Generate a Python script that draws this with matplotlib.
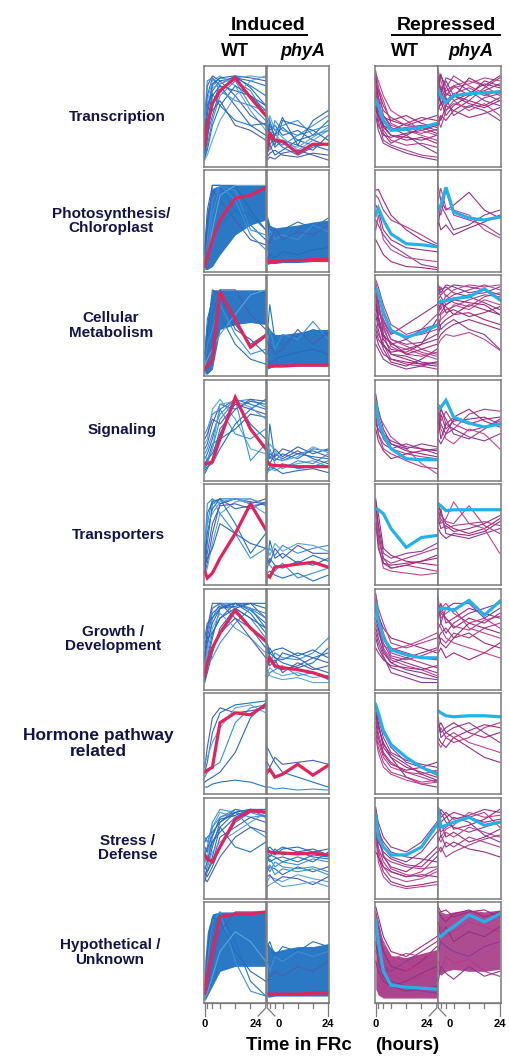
import matplotlib
matplotlib.use("Agg")
import matplotlib.pyplot as plt

plt.rcParams['font.family'] = ['Liberation Sans', 'DejaVu Sans']

W, H = 509, 1056

# sampling times (hours in FRc)
times = [0, 1, 3, 6, 12, 18, 24]
minor_ticks = [1, 3, 6, 12, 18]

categories = ["Transcription", "Photosynthesis/\nChloroplast", "Cellular\nMetabolism",
              "Signaling", "Transporters", "Growth /\nDevelopment",
              "Hormone pathway\nrelated", "Stress /\nDefense", "Hypothetical /\nUnknown"]
label_x = [117, 111, 111, 122, 118, 113, 98, 128, 110]
label_size = [11, 11, 11, 11, 11, 11, 12.5, 11, 11]

# ---- Transcription ----
transcription_ind_wt = [
    [15, 40, 75, 85, 88, 80, 70], [30, 55, 80, 88, 85, 60, 45], [10, 35, 60, 82, 90, 88, 85],
    [25, 70, 88, 80, 75, 70, 60], [40, 65, 85, 90, 80, 55, 35], [20, 30, 50, 75, 88, 85, 80],
    [5, 20, 45, 70, 85, 75, 50], [35, 80, 90, 85, 70, 50, 40], [12, 25, 70, 80, 60, 40, 30],
    [45, 60, 78, 82, 88, 90, 88], [8, 15, 40, 60, 80, 70, 55], [50, 85, 88, 75, 65, 60, 55],
    [18, 45, 55, 65, 40, 35, 25], [28, 50, 82, 88, 90, 78, 60], [6, 10, 25, 45, 70, 85, 90],
    [22, 60, 72, 60, 45, 40, 42]]
transcription_ind_wt_avg = [20, 40, 62, 75, 88, 68, 50]
transcription_ind_phya = [
    [35, 40, 30, 38, 25, 30, 45], [20, 15, 25, 20, 30, 35, 40], [10, 30, 18, 25, 20, 15, 30],
    [45, 35, 40, 30, 35, 25, 20], [25, 50, 35, 28, 15, 25, 35], [15, 20, 10, 15, 25, 20, 15],
    [30, 25, 45, 35, 30, 40, 50], [8, 12, 15, 10, 8, 12, 10], [40, 30, 20, 45, 40, 35, 25],
    [22, 28, 32, 22, 18, 28, 38], [12, 45, 25, 18, 10, 18, 22], [50, 42, 35, 40, 45, 30, 35],
    [5, 8, 6, 12, 15, 10, 5], [28, 20, 30, 48, 20, 45, 55]]
transcription_ind_phya_avg = [15, 32, 25, 24, 12, 21, 21]
transcription_rep_wt = [
    [90, 70, 40, 30, 28, 25, 30], [80, 55, 35, 25, 20, 22, 18], [70, 60, 45, 35, 38, 40, 35],
    [95, 80, 50, 40, 35, 30, 25], [60, 40, 30, 28, 32, 35, 40], [85, 75, 60, 45, 40, 45, 50],
    [75, 45, 25, 20, 15, 10, 8], [65, 58, 50, 38, 30, 20, 12], [92, 85, 70, 55, 45, 35, 30],
    [55, 50, 40, 35, 42, 48, 45], [88, 62, 38, 30, 25, 28, 22], [72, 68, 55, 48, 40, 38, 42],
    [50, 35, 22, 18, 12, 8, 5], [82, 78, 65, 42, 35, 32, 36], [68, 50, 32, 22, 30, 38, 32],
    [58, 55, 48, 45, 50, 42, 38]]
transcription_rep_wt_avg = [66, 60, 45, 35, 36, 38, 42]
transcription_rep_phya = [
    [85, 60, 75, 80, 70, 85, 80], [70, 80, 65, 72, 78, 70, 75], [90, 75, 85, 70, 65, 78, 88],
    [60, 55, 70, 80, 85, 80, 70], [75, 90, 80, 65, 72, 82, 78], [50, 45, 60, 55, 65, 60, 68],
    [80, 70, 55, 62, 58, 68, 72], [65, 72, 88, 85, 75, 65, 60], [95, 85, 70, 78, 82, 88, 85],
    [55, 65, 50, 60, 70, 75, 82], [40, 50, 45, 55, 48, 52, 58], [88, 68, 78, 90, 80, 72, 65],
    [72, 62, 68, 50, 60, 55, 45], [45, 38, 55, 65, 55, 62, 50], [82, 92, 72, 68, 88, 80, 90],
    [62, 75, 60, 70, 62, 58, 65]]
transcription_rep_phya_avg = [76, 70, 63, 70, 72, 73, 74]

# ---- Photosynthesis ----
photo_ind_wt_band = ([0, 0, 3, 15, 35, 45, 50], [35, 60, 82, 85, 85, 85, 85])
photo_ind_wt = [
    [10, 40, 85, 85, 60, 45, 30], [5, 30, 70, 85, 80, 40, 35], [15, 50, 80, 70, 50, 30, 25],
    [20, 60, 85, 85, 85, 60, 40], [0, 10, 40, 75, 85, 85, 85], [8, 20, 30, 45, 60, 55, 40],
    [3, 15, 55, 85, 70, 35, 20]]
photo_ind_wt_avg = [3, 12, 30, 50, 72, 75, 83]
photo_ind_phya_band = ([5, 6, 6, 7, 7, 8, 8], [55, 45, 42, 43, 45, 48, 50])
photo_ind_phya = [
    [50, 30, 35, 40, 48, 42, 52], [20, 40, 30, 35, 30, 45, 38], [30, 25, 42, 30, 38, 35, 45],
    [10, 15, 12, 18, 15, 20, 22]]
photo_ind_phya_avg = [8, 8, 8, 9, 9, 10, 10]
photo_rep_wt = [
    [80, 81, 70, 55, 40, 30, 24], [75, 72, 60, 50, 43, 35, 26], [50, 45, 35, 25, 15, 5, 2],
    [40, 55, 30, 20, 12, 10, 8], [65, 60, 40, 30, 22, 20, 18], [30, 25, 15, 8, 3, 2, 0]]
photo_rep_wt_avg = [55, 62, 50, 36, 26, 25, 23]
photo_rep_phya = [
    [83, 70, 60, 65, 78, 60, 52], [60, 55, 80, 55, 50, 45, 35], [45, 65, 55, 40, 45, 55, 60],
    [70, 82, 62, 60, 55, 40, 32], [50, 40, 45, 35, 42, 48, 55]]
photo_rep_phya_avg = [60, 65, 83, 58, 52, 50, 53]

# ---- Cellular metabolism ----
cell_ind_wt_band = ([0, 0, 5, 45, 50, 52, 50], [35, 55, 85, 85, 85, 85, 85])
cell_ind_wt = [
    [5, 20, 60, 85, 50, 30, 40], [10, 30, 45, 70, 40, 20, 25], [2, 10, 30, 85, 85, 60, 45],
    [20, 40, 85, 80, 45, 35, 20], [8, 15, 25, 40, 60, 80, 85], [15, 55, 75, 60, 30, 15, 10]]
cell_ind_wt_avg = [5, 8, 14, 83, 55, 27, 39]
cell_ind_phya_band = ([5, 6, 8, 8, 8, 8, 8], [50, 45, 40, 40, 42, 45, 45])
cell_ind_phya = [
    [40, 70, 35, 30, 38, 45, 40], [30, 45, 25, 40, 35, 53, 35], [20, 30, 20, 25, 45, 30, 42],
    [15, 10, 15, 18, 22, 25, 20]]
cell_ind_phya_avg = [8, 8, 8, 8, 9, 9, 9]
cell_rep_wt = [
    [90, 75, 40, 20, 15, 10, 12], [80, 60, 30, 15, 10, 8, 5], [70, 65, 50, 35, 30, 32, 40],
    [85, 80, 65, 45, 35, 25, 20], [60, 45, 25, 12, 8, 15, 25], [75, 55, 35, 25, 22, 30, 55],
    [95, 88, 70, 50, 40, 45, 60], [50, 40, 30, 20, 18, 12, 10], [88, 70, 45, 30, 25, 20, 15],
    [65, 62, 55, 40, 50, 60, 70], [40, 30, 20, 15, 12, 10, 8], [78, 72, 48, 28, 20, 18, 22],
    [55, 58, 40, 30, 35, 45, 50], [92, 82, 55, 35, 28, 22, 18], [45, 35, 28, 22, 25, 30, 35],
    [70, 50, 38, 32, 20, 25, 30], [82, 68, 52, 42, 38, 40, 45], [30, 25, 15, 10, 5, 8, 12]]
cell_rep_wt_avg = [87, 82, 62, 44, 37, 42, 49]
cell_rep_phya = [
    [75, 80, 85, 90, 88, 85, 80], [60, 70, 75, 80, 85, 90, 85], [85, 78, 70, 75, 80, 82, 88],
    [50, 55, 60, 70, 65, 75, 70], [90, 85, 88, 82, 78, 72, 65], [40, 50, 55, 60, 70, 65, 60],
    [70, 65, 80, 72, 68, 78, 82], [55, 45, 50, 55, 45, 40, 25], [80, 88, 78, 85, 90, 88, 90],
    [35, 40, 45, 50, 55, 50, 45], [65, 72, 68, 60, 62, 55, 50], [45, 60, 65, 68, 75, 80, 78],
    [88, 82, 90, 88, 82, 85, 75], [30, 35, 40, 38, 42, 35, 24], [72, 75, 62, 65, 58, 62, 68],
    [58, 62, 70, 75, 72, 70, 60]]
cell_rep_phya_avg = [72, 73, 74, 76, 78, 86, 75]

# ---- Signaling ----
signal_ind_wt = [
    [20, 25, 40, 70, 80, 75, 70], [10, 15, 30, 60, 78, 80, 72], [30, 35, 55, 75, 70, 80, 78],
    [15, 20, 25, 45, 78, 55, 40], [35, 40, 70, 80, 60, 30, 25], [5, 10, 20, 50, 70, 78, 75],
    [25, 30, 45, 65, 80, 18, 35], [40, 45, 60, 55, 75, 70, 65], [12, 18, 35, 40, 50, 65, 62],
    [22, 20, 30, 75, 78, 72, 60], [8, 12, 15, 30, 55, 70, 80], [45, 50, 65, 70, 45, 40, 50]]
signal_ind_wt_avg = [15, 15, 17, 40, 82, 50, 30]
signal_ind_phya = [
    [15, 55, 20, 18, 25, 22, 20], [10, 8, 12, 15, 10, 12, 18], [20, 25, 22, 30, 25, 28, 22],
    [25, 20, 30, 22, 32, 25, 30], [5, 10, 8, 12, 15, 18, 12], [30, 22, 18, 25, 20, 30, 28],
    [12, 30, 15, 10, 18, 15, 25], [18, 15, 25, 20, 28, 20, 15], [8, 12, 10, 5, 8, 10, 6],
    [22, 35, 28, 18, 22, 32, 26]]
signal_ind_phya_avg = [17, 14, 13, 13, 12, 12, 12]
signal_rep_wt = [
    [85, 70, 50, 35, 28, 25, 22], [70, 55, 40, 30, 25, 22, 20], [60, 45, 35, 30, 35, 30, 25],
    [80, 65, 55, 42, 30, 15, 5], [50, 38, 28, 20, 25, 28, 30], [75, 60, 45, 38, 32, 30, 28],
    [65, 45, 30, 25, 18, 12, 10], [55, 50, 42, 35, 30, 35, 32]]
signal_rep_wt_avg = [76, 60, 44, 30, 20, 19, 19]
signal_rep_phya = [
    [65, 55, 45, 60, 55, 60, 62], [75, 72, 55, 50, 65, 70, 68], [55, 70, 60, 45, 40, 50, 60],
    [70, 50, 40, 35, 50, 45, 30], [45, 65, 50, 58, 60, 62, 55], [60, 40, 55, 62, 70, 58, 52],
    [72, 58, 68, 55, 48, 52, 58], [40, 35, 45, 50, 42, 38, 45]]
signal_rep_phya_avg = [70, 72, 79, 62, 56, 52, 55]

# ---- Transporters ----
transp_ind_wt = [
    [15, 40, 80, 85, 85, 82, 80], [25, 60, 85, 80, 85, 85, 78], [10, 20, 50, 80, 85, 80, 85],
    [30, 70, 82, 85, 75, 78, 80], [8, 15, 40, 70, 82, 85, 80], [20, 50, 75, 85, 60, 30, 50],
    [35, 80, 85, 70, 50, 25, 35], [12, 30, 60, 78, 80, 75, 82], [18, 25, 35, 60, 50, 40, 35],
    [40, 60, 70, 82, 85, 80, 70]]
transp_ind_wt_avg = [12, 5, 10, 25, 50, 80, 54]
transp_ind_phya = [
    [20, 43, 25, 30, 20, 28, 22], [30, 35, 28, 38, 30, 35, 38], [25, 20, 35, 25, 38, 30, 30],
    [15, 25, 18, 15, 22, 18, 25], [35, 28, 40, 32, 40, 38, 32], [10, 12, 8, 5, 10, 2, 8],
    [22, 18, 12, 20, 5, 10, 15]]
transp_ind_phya_avg = [8, 6, 16, 17, 19, 21, 16]
transp_rep_wt = [
    [85, 55, 20, 15, 18, 22, 28], [80, 45, 25, 20, 25, 30, 35], [75, 60, 30, 25, 30, 32, 40],
    [70, 40, 15, 12, 10, 8, 10], [60, 35, 20, 18, 20, 22, 25], [82, 70, 35, 28, 22, 20, 18],
    [55, 48, 25, 15, 18, 15, 12]]
transp_rep_wt_avg = [75, 74, 70, 55, 36, 46, 48]
transp_rep_phya = [
    [80, 70, 60, 55, 50, 55, 65], [70, 65, 55, 58, 60, 62, 58], [60, 75, 50, 48, 45, 50, 55],
    [75, 60, 65, 82, 60, 55, 30], [65, 55, 58, 52, 55, 60, 68], [55, 50, 45, 50, 48, 52, 62],
    [72, 68, 62, 60, 78, 58, 50]]
transp_rep_phya_avg = [80, 78, 73, 74, 74, 74, 74]

# ---- Growth / Development ----
growth_ind_wt = [
    [10, 25, 50, 80, 85, 80, 60], [20, 40, 70, 85, 80, 70, 50], [30, 50, 75, 82, 85, 85, 70],
    [5, 15, 35, 60, 80, 85, 80], [40, 60, 80, 85, 75, 60, 45], [15, 30, 55, 70, 85, 75, 55],
    [25, 55, 80, 85, 85, 80, 75], [8, 20, 40, 55, 70, 60, 40], [35, 45, 65, 80, 82, 85, 85],
    [12, 35, 60, 75, 60, 50, 35], [50, 65, 70, 80, 85, 78, 65], [18, 22, 30, 45, 65, 80, 70],
    [28, 60, 85, 85, 70, 50, 30], [45, 50, 55, 70, 80, 70, 60]]
growth_ind_wt_avg = [12, 25, 40, 55, 78, 60, 47]
growth_ind_phya = [
    [25, 35, 30, 25, 20, 25, 40], [30, 25, 35, 30, 28, 35, 50], [20, 28, 20, 18, 22, 30, 25],
    [40, 30, 25, 35, 30, 20, 15], [15, 20, 15, 12, 15, 10, 12], [35, 40, 30, 28, 35, 30, 35],
    [10, 15, 18, 22, 12, 15, 8], [28, 22, 28, 15, 25, 18, 22], [45, 35, 38, 40, 32, 38, 30],
    [18, 12, 10, 8, 10, 5, 5]]
growth_ind_phya_avg = [25, 30, 22, 20, 18, 15, 10]
growth_rep_wt = [
    [85, 70, 50, 40, 35, 30, 28], [90, 75, 55, 35, 30, 25, 20], [70, 60, 45, 30, 25, 20, 15],
    [80, 65, 40, 28, 22, 18, 12], [60, 50, 35, 25, 30, 35, 40], [75, 72, 60, 50, 45, 40, 35],
    [95, 80, 65, 45, 40, 45, 50], [50, 40, 30, 20, 15, 10, 8], [65, 55, 42, 38, 42, 48, 55],
    [88, 60, 38, 25, 18, 15, 10], [40, 35, 28, 22, 20, 18, 22], [78, 68, 52, 32, 28, 32, 38],
    [55, 45, 32, 15, 10, 5, 5]]
growth_rep_wt_avg = [85, 68, 50, 38, 33, 30, 30]
growth_rep_phya = [
    [80, 75, 70, 60, 70, 65, 75], [70, 80, 85, 75, 65, 70, 60], [60, 65, 55, 65, 75, 80, 85],
    [90, 70, 75, 80, 60, 55, 50], [50, 55, 60, 50, 55, 45, 40], [75, 85, 65, 70, 80, 75, 70],
    [40, 50, 45, 55, 50, 60, 65], [85, 65, 80, 85, 85, 70, 80], [65, 60, 50, 45, 40, 35, 30],
    [55, 45, 40, 50, 65, 60, 55], [35, 40, 30, 35, 28, 35, 45], [72, 78, 70, 62, 58, 68, 72]]
growth_rep_phya_avg = [78, 80, 80, 78, 88, 73, 87]

# ---- Hormone pathway related ----
hormone_ind_wt = [
    [20, 30, 60, 80, 88, 90, 92], [15, 20, 25, 30, 70, 85, 88], [25, 45, 75, 85, 80, 82, 85],
    [10, 12, 15, 20, 40, 75, 90], [30, 35, 50, 65, 85, 88, 80], [5, 5, 8, 10, 12, 10, 5]]
hormone_ind_wt_avg = [20, 22, 25, 70, 80, 78, 88]
hormone_ind_phya = [[45, 40, 30, 20, 15, 10, 5], [5, 5, 3, 4, 2, 3, 2], [30, 25, 35, 28, 30, 32, 28]]
hormone_ind_phya_avg = [20, 23, 15, 18, 28, 17, 27]
hormone_rep_wt = [
    [85, 70, 45, 35, 25, 20, 15], [75, 60, 40, 30, 20, 15, 10], [90, 80, 60, 45, 30, 25, 20],
    [65, 50, 35, 25, 20, 18, 22], [80, 65, 50, 35, 15, 8, 5], [70, 55, 38, 28, 22, 25, 30],
    [60, 45, 30, 20, 15, 10, 12], [88, 75, 55, 40, 32, 28, 25], [55, 40, 25, 18, 12, 8, 10],
    [78, 68, 48, 38, 28, 18, 12]]
hormone_rep_wt_avg = [88, 80, 62, 48, 35, 25, 18]
hormone_rep_phya = [
    [70, 60, 65, 70, 60, 55, 60], [60, 65, 55, 50, 55, 65, 70], [75, 55, 60, 65, 70, 60, 50],
    [50, 45, 55, 60, 50, 45, 40], [65, 70, 60, 55, 45, 35, 30], [55, 50, 45, 55, 62, 68, 65]]
hormone_rep_phya_avg = [82, 80, 77, 76, 77, 77, 76]

# ---- Stress / Defense ----
stress_ind_wt = [
    [30, 25, 40, 70, 85, 88, 85], [40, 35, 60, 80, 85, 80, 82], [20, 30, 50, 75, 88, 85, 88],
    [50, 45, 55, 65, 80, 88, 80], [35, 40, 70, 85, 80, 85, 85], [25, 20, 30, 50, 75, 85, 88],
    [45, 50, 75, 88, 85, 70, 60], [15, 25, 35, 60, 70, 80, 75], [55, 60, 65, 75, 85, 88, 85],
    [38, 30, 45, 55, 65, 75, 85], [28, 35, 55, 70, 50, 45, 55], [60, 55, 70, 80, 88, 85, 80],
    [18, 15, 25, 40, 60, 70, 65], [42, 48, 62, 78, 82, 88, 88]]
stress_ind_wt_avg = [42, 38, 35, 50, 78, 87, 85]
stress_ind_phya = [
    [45, 40, 48, 42, 45, 40, 38], [35, 38, 30, 35, 32, 38, 35], [25, 30, 28, 22, 30, 25, 30],
    [50, 45, 42, 48, 50, 45, 48], [15, 20, 18, 15, 22, 18, 15], [40, 35, 38, 40, 35, 42, 40],
    [30, 25, 35, 30, 28, 30, 25], [20, 22, 15, 20, 18, 12, 20], [48, 50, 45, 50, 45, 48, 42],
    [10, 12, 15, 10, 12, 15, 10], [38, 42, 40, 35, 40, 35, 45], [28, 32, 22, 28, 25, 28, 22]]
stress_ind_phya_avg = [46, 45, 44, 44, 43, 44, 42]
stress_rep_wt = [
    [85, 60, 40, 30, 25, 35, 50], [75, 50, 35, 25, 20, 25, 40], [90, 70, 50, 40, 35, 45, 65],
    [65, 45, 30, 20, 15, 18, 25], [80, 65, 55, 45, 40, 38, 35], [70, 40, 25, 15, 10, 12, 15],
    [55, 45, 40, 35, 30, 28, 30], [88, 75, 60, 50, 45, 55, 75], [60, 35, 20, 12, 8, 10, 12],
    [78, 55, 45, 38, 32, 30, 45], [45, 40, 30, 25, 20, 22, 20], [82, 68, 42, 28, 22, 20, 28]]
stress_rep_wt_avg = [82, 60, 50, 42, 42, 50, 72]
stress_rep_phya = [
    [88, 75, 80, 85, 80, 75, 78], [75, 65, 70, 75, 80, 85, 70], [80, 85, 75, 70, 65, 70, 75],
    [60, 55, 65, 60, 70, 65, 60], [70, 75, 60, 65, 55, 60, 68], [90, 80, 85, 78, 82, 88, 85],
    [50, 45, 55, 50, 60, 55, 50], [65, 70, 72, 80, 75, 62, 55], [85, 60, 68, 72, 85, 80, 82],
    [55, 62, 50, 55, 48, 45, 40], [78, 88, 82, 68, 72, 78, 88], [45, 50, 40, 45, 52, 58, 62]]
stress_rep_phya_avg = [88, 70, 72, 75, 80, 72, 75]

# ---- Hypothetical / Unknown ----
hypo_ind_wt_band = ([0, 5, 15, 30, 35, 35, 35], [40, 70, 88, 90, 90, 90, 90])
hypo_ind_wt = [
    [5, 20, 60, 90, 60, 20, 5], [10, 40, 80, 90, 40, 10, 5], [2, 10, 40, 70, 90, 90, 90],
    [15, 50, 85, 80, 50, 30, 20], [3, 8, 25, 50, 70, 60, 40]]
hypo_ind_wt_avg = [8, 25, 50, 85, 88, 88, 90]
hypo_ind_phya_band = ([4, 4, 5, 5, 5, 5, 5], [60, 55, 50, 52, 55, 55, 58])
hypo_ind_phya = [[55, 60, 45, 55, 50, 60, 55], [40, 30, 45, 40, 50, 45, 50], [20, 25, 30, 25, 35, 30, 40]]
hypo_ind_phya_avg = [7, 7, 7, 7, 7, 8, 8]
hypo_rep_wt_band = ([12, 6, 3, 3, 3, 3, 3], [88, 78, 58, 46, 44, 48, 52])
hypo_rep_wt = [
    [90, 75, 50, 35, 30, 40, 55], [85, 60, 40, 25, 20, 25, 30], [70, 55, 35, 30, 40, 50, 60],
    [80, 70, 60, 45, 35, 30, 25], [60, 40, 25, 15, 10, 12, 15], [95, 85, 65, 50, 45, 55, 65],
    [50, 45, 35, 25, 30, 35, 40], [75, 50, 30, 20, 15, 10, 8], [88, 80, 55, 42, 48, 45, 50],
    [40, 30, 20, 15, 20, 28, 35]]
hypo_rep_wt_avg = [82, 60, 30, 16, 14, 13, 12]
hypo_rep_phya_band = ([28, 26, 30, 32, 30, 30, 32], [92, 90, 88, 90, 92, 90, 92])
hypo_rep_phya = [
    [90, 85, 80, 88, 92, 85, 90], [70, 75, 65, 70, 80, 75, 70], [50, 60, 55, 50, 45, 55, 60],
    [30, 40, 35, 45, 30, 40, 45], [80, 65, 75, 60, 70, 65, 75], [95, 90, 92, 85, 90, 92, 85],
    [40, 30, 45, 38, 42, 30, 25], [20, 35, 28, 22, 35, 25, 30]]
hypo_rep_phya_avg = [67, 65, 70, 75, 87, 80, 88]

# rows: (lines, average, band) for induced WT, induced phyA, repressed WT, repressed phyA
rows = [
    [(transcription_ind_wt, transcription_ind_wt_avg, None),
     (transcription_ind_phya, transcription_ind_phya_avg, None),
     (transcription_rep_wt, transcription_rep_wt_avg, None),
     (transcription_rep_phya, transcription_rep_phya_avg, None)],
    [(photo_ind_wt, photo_ind_wt_avg, photo_ind_wt_band),
     (photo_ind_phya, photo_ind_phya_avg, photo_ind_phya_band),
     (photo_rep_wt, photo_rep_wt_avg, None),
     (photo_rep_phya, photo_rep_phya_avg, None)],
    [(cell_ind_wt, cell_ind_wt_avg, cell_ind_wt_band),
     (cell_ind_phya, cell_ind_phya_avg, cell_ind_phya_band),
     (cell_rep_wt, cell_rep_wt_avg, None),
     (cell_rep_phya, cell_rep_phya_avg, None)],
    [(signal_ind_wt, signal_ind_wt_avg, None),
     (signal_ind_phya, signal_ind_phya_avg, None),
     (signal_rep_wt, signal_rep_wt_avg, None),
     (signal_rep_phya, signal_rep_phya_avg, None)],
    [(transp_ind_wt, transp_ind_wt_avg, None),
     (transp_ind_phya, transp_ind_phya_avg, None),
     (transp_rep_wt, transp_rep_wt_avg, None),
     (transp_rep_phya, transp_rep_phya_avg, None)],
    [(growth_ind_wt, growth_ind_wt_avg, None),
     (growth_ind_phya, growth_ind_phya_avg, None),
     (growth_rep_wt, growth_rep_wt_avg, None),
     (growth_rep_phya, growth_rep_phya_avg, None)],
    [(hormone_ind_wt, hormone_ind_wt_avg, None),
     (hormone_ind_phya, hormone_ind_phya_avg, None),
     (hormone_rep_wt, hormone_rep_wt_avg, None),
     (hormone_rep_phya, hormone_rep_phya_avg, None)],
    [(stress_ind_wt, stress_ind_wt_avg, None),
     (stress_ind_phya, stress_ind_phya_avg, None),
     (stress_rep_wt, stress_rep_wt_avg, None),
     (stress_rep_phya, stress_rep_phya_avg, None)],
    [(hypo_ind_wt, hypo_ind_wt_avg, hypo_ind_wt_band),
     (hypo_ind_phya, hypo_ind_phya_avg, hypo_ind_phya_band),
     (hypo_rep_wt, hypo_rep_wt_avg, hypo_rep_wt_band),
     (hypo_rep_phya, hypo_rep_phya_avg, hypo_rep_phya_band)],
]

blue_shades = ["#1f74c4", "#3a8fd6", "#4a5db0", "#2a68b8", "#5aa4de"]
mag_shades = ["#a3287c", "#b23c8c", "#8a3a9a", "#c0448e", "#96307e"]
band_colors = ["#1f72c2", "#1f72c2", "#a02c7e", "#a02c7e"]
band_alpha = [0.95, 0.95, 0.88, 0.85]
avg_colors = ["#e2245c", "#e2245c", "#22b2ea", "#22b2ea"]
frame_color = "#7a7a7a"
label_color = "#13134a"

col_x = [(204, 266.5), (266.5, 329), (375, 437.5), (437.5, 500.5)]
row_top0, row_pitch, row_h = 66, 104.5, 101


def px_box(x0, y0, x1, y1):
    return [x0 / W, 1 - y1 / H, (x1 - x0) / W, (y1 - y0) / H]


fig = plt.figure(figsize=(W / 100, H / 100), dpi=100)

for r, panels in enumerate(rows):
    top = row_top0 + r * row_pitch
    for c, (lines, avg, band) in enumerate(panels):
        x0, x1 = col_x[c]
        ax = fig.add_axes(px_box(x0, top, x1, top + row_h))
        shades = blue_shades if c < 2 else mag_shades
        if band is not None:
            ax.fill_between(times, band[0], band[1], color=band_colors[c], lw=0, alpha=band_alpha[c])
        for i, vals in enumerate(lines):
            ax.plot(times, vals, color=shades[i % len(shades)], lw=0.8)
        ax.plot(times, avg, color=avg_colors[c], lw=2.3, solid_joinstyle='miter')
        ax.set_xlim(-0.3, 24.3)
        ax.set_ylim(-2, 100)
        ax.set_xticks([])
        ax.set_yticks([])
        for sp in ax.spines.values():
            sp.set_color(frame_color)
            sp.set_linewidth(1.1)
    fig.text(label_x[r] / W, 1 - (top + row_h / 2) / H, categories[r], ha='center', va='center',
             fontsize=label_size[r], fontweight='bold', color=label_color, linespacing=1.05)

# bottom time axes
axis_top = row_top0 + 8 * row_pitch + row_h
for c, (x0, x1) in enumerate(col_x):
    tax = fig.add_axes(px_box(x0, axis_top, x1, axis_top + 30))
    tax.set_xlim(-0.3, 24.3)
    tax.set_ylim(30, 0)
    tax.axis('off')
    k = dict(color=frame_color, lw=0.9, clip_on=False)
    tax.plot([0, 24], [0, 0], **k)
    for t in minor_ticks:
        tax.plot([t, t], [0, 5], **k)
    if c % 2 == 0:
        tax.plot([0, 0], [0, 13], **k)
        tax.plot([24, 24, 21], [0, 5, 13], **k)
        tax.text(0, 21, "0", ha='center', va='center', fontsize=8, fontweight='bold')
        tax.text(20, 21, "24", ha='center', va='center', fontsize=8, fontweight='bold')
    else:
        tax.plot([24, 24], [0, 13], **k)
        tax.plot([0, 0, 3], [0, 5, 13], **k)
        tax.text(4.5, 21, "0", ha='center', va='center', fontsize=8, fontweight='bold')
        tax.text(24, 21, "24", ha='center', va='center', fontsize=8, fontweight='bold')

fig.text(299 / W, 1 - 1046 / H, "Time in FRc", ha='center', va='center', fontsize=13.5, fontweight='bold')
fig.text(407 / W, 1 - 1046 / H, "(hours)", ha='center', va='center', fontsize=13.5, fontweight='bold')

# column headers
for cx, name in [(268, "Induced"), (446, "Repressed")]:
    fig.text(cx / W, 1 - 25 / H, name, ha='center', va='center', fontsize=14, fontweight='bold')
fig.add_artist(plt.Line2D([230 / W, 307 / W], [1 - 35 / H] * 2, color='black', lw=1.4))
fig.add_artist(plt.Line2D([392 / W, 500 / W], [1 - 35 / H] * 2, color='black', lw=1.4))
for cx, name, style in [(235, "WT", 'normal'), (303, "phyA", 'italic'),
                        (405, "WT", 'normal'), (471, "phyA", 'italic')]:
    fig.text(cx / W, 1 - 52 / H, name, ha='center', va='center', fontsize=13,
             fontweight='bold', style=style)

fig.savefig("out.png", dpi=100)
